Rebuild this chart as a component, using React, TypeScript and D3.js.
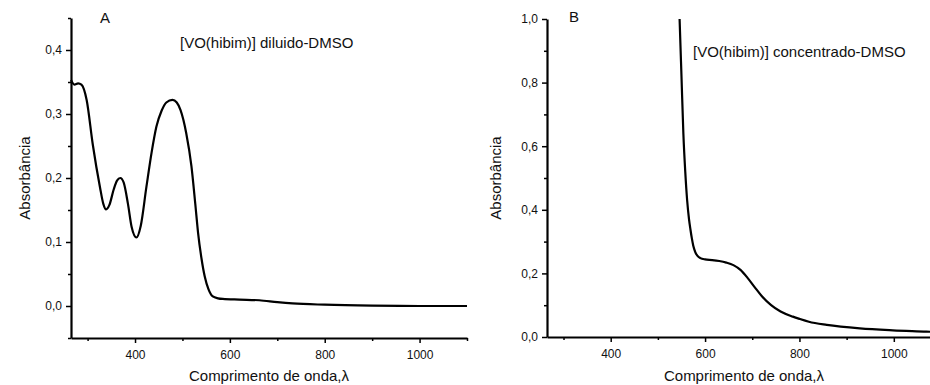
import React, { useEffect, useRef } from 'react';
import * as d3 from 'd3';

// Panel A: [VO(hibim)] diluido-DMSO
const wavelengthA = [
  265, 272, 280, 287, 298, 311, 326, 333, 339, 346, 355, 362, 369, 376, 385, 393,
  403, 412, 424, 435, 445, 456, 466, 479, 488, 496, 508, 519, 527, 533, 540, 547,
  555, 564, 575, 585, 620, 662, 700, 732, 800, 900, 1000, 1100,
];
const absorbanceA = [
  0.353, 0.346, 0.348, 0.346, 0.322, 0.252, 0.186, 0.16, 0.151, 0.158, 0.182, 0.196,
  0.2, 0.193, 0.16, 0.123, 0.107, 0.125, 0.186, 0.24, 0.28, 0.305, 0.318, 0.322,
  0.318, 0.306, 0.27, 0.218, 0.16, 0.114, 0.075, 0.046, 0.026, 0.015, 0.012, 0.011,
  0.01, 0.009, 0.006, 0.004, 0.002, 0.0005, 0.0, 0.0,
];

// Panel B: [VO(hibim)] concentrado-DMSO
const wavelengthB = [
  546, 550, 554, 558, 562, 566, 569, 572, 575, 579, 584, 590, 600, 615, 630, 645,
  660, 675, 690, 705, 720, 740, 760, 786, 800, 820, 858, 928, 998, 1069, 1100,
];
const absorbanceB = [
  1.0, 0.82, 0.64, 0.52, 0.43, 0.37, 0.338, 0.31, 0.287, 0.268, 0.255, 0.248, 0.244,
  0.242, 0.239, 0.234, 0.226, 0.211, 0.186, 0.157, 0.129, 0.1, 0.08, 0.064, 0.057,
  0.048, 0.038, 0.027, 0.021, 0.017, 0.015,
];

const xMajorTicks = [400, 600, 800, 1000];
const xMinorTicks = [300, 500, 700, 900, 1100];
const yMajorTicksA = [0, 0.1, 0.2, 0.3, 0.4];
const yMinorTicksA = [-0.05, 0.05, 0.15, 0.25, 0.35, 0.45];
const yMajorTicksB = [0, 0.2, 0.4, 0.6, 0.8, 1.0];
const yMinorTicksB = [0.1, 0.3, 0.5, 0.7, 0.9];

const FONT = '"Liberation Sans", Arial, Helvetica, sans-serif';

interface PanelSpec {
  left: number;
  right: number;
  top: number;
  bottom: number;
  yDomain: [number, number];
  yMajor: number[];
  yMinor: number[];
  xs: number[];
  ys: number[];
  letter: string;
  letterPos: [number, number];
  note: string;
  notePos: [number, number];
  yLabelX: number;
}

const App: React.FC = () => {
  const svgRef = useRef<SVGSVGElement>(null);

  useEffect(() => {
    if (!svgRef.current) return;
    const svg = d3.select(svgRef.current);
    svg.selectAll('*').remove();

    const commaFmt = (v: d3.NumberValue) => d3.format('.1f')(Number(v)).replace('.', ',');

    const panels: PanelSpec[] = [
      {
        left: 71, right: 467, top: 18, bottom: 338,
        yDomain: [-0.05, 0.45], yMajor: yMajorTicksA, yMinor: yMinorTicksA,
        xs: wavelengthA, ys: absorbanceA,
        letter: 'A', letterPos: [100, 23],
        note: '[VO(hibim)] diluido-DMSO', notePos: [180, 48],
        yLabelX: 30,
      },
      {
        left: 547, right: 941, top: 19, bottom: 337,
        yDomain: [0, 1.0], yMajor: yMajorTicksB, yMinor: yMinorTicksB,
        xs: wavelengthB, ys: absorbanceB,
        letter: 'B', letterPos: [569, 22],
        note: '[VO(hibim)] concentrado-DMSO', notePos: [693, 57],
        yLabelX: 501,
      },
    ];

    panels.forEach((p) => {
      const x = d3.scaleLinear().domain([265, 1100]).range([p.left, p.right]);
      const y = d3.scaleLinear().domain(p.yDomain).range([p.bottom, p.top]);

      // minor ticks
      svg.append('g')
        .attr('transform', `translate(${p.left},0)`)
        .call(d3.axisLeft(y).tickValues(p.yMinor).tickSize(3).tickSizeOuter(0).tickFormat(() => ''))
        .call((g) => g.select('.domain').remove())
        .selectAll('line').attr('stroke', '#000').attr('stroke-width', 1.5);
      svg.append('g')
        .attr('transform', `translate(0,${p.bottom})`)
        .call(d3.axisBottom(x).tickValues(xMinorTicks).tickSize(3).tickSizeOuter(0).tickFormat(() => ''))
        .call((g) => g.select('.domain').remove())
        .selectAll('line').attr('stroke', '#000').attr('stroke-width', 1.5);

      // major y axis
      const yAxis = svg.append('g')
        .attr('transform', `translate(${p.left},0)`)
        .call(d3.axisLeft(y).tickValues(p.yMajor).tickSize(5).tickSizeOuter(0).tickPadding(4).tickFormat(commaFmt));
      yAxis.select('.domain').attr('stroke', '#000').attr('stroke-width', 2.2);
      yAxis.selectAll('line').attr('stroke', '#000').attr('stroke-width', 1.5);
      yAxis.selectAll('text').attr('font-family', FONT).attr('font-size', 12).attr('fill', '#111');

      // major x axis
      const xAxis = svg.append('g')
        .attr('transform', `translate(0,${p.bottom})`)
        .call(d3.axisBottom(x).tickValues(xMajorTicks).tickSize(5).tickSizeOuter(0).tickPadding(7).tickFormat(d3.format('d')));
      xAxis.select('.domain').attr('stroke', '#000').attr('stroke-width', 2.2);
      xAxis.selectAll('line').attr('stroke', '#000').attr('stroke-width', 1.5);
      xAxis.selectAll('text').attr('font-family', FONT).attr('font-size', 12).attr('fill', '#111');

      // spectrum line
      const pts = p.xs.map((w, i) => [w, p.ys[i]] as [number, number]);
      const line = d3.line<[number, number]>()
        .x((d) => x(d[0]))
        .y((d) => y(d[1]))
        .curve(d3.curveMonotoneX);
      svg.append('path')
        .datum(pts)
        .attr('d', line)
        .attr('fill', 'none')
        .attr('stroke', '#000')
        .attr('stroke-width', 2.2);

      // axis titles
      svg.append('text')
        .attr('x', (p.left + p.right) / 2)
        .attr('y', 381)
        .attr('text-anchor', 'middle')
        .attr('font-family', FONT)
        .attr('font-size', 15)
        .attr('fill', '#111')
        .text('Comprimento de onda,λ');
      svg.append('text')
        .attr('transform', `translate(${p.yLabelX},${(p.top + p.bottom) / 2}) rotate(-90)`)
        .attr('text-anchor', 'middle')
        .attr('font-family', FONT)
        .attr('font-size', 15)
        .attr('fill', '#111')
        .text('Absorbância');

      // panel letter and annotation
      svg.append('text')
        .attr('x', p.letterPos[0])
        .attr('y', p.letterPos[1])
        .attr('font-family', FONT)
        .attr('font-size', 15)
        .attr('fill', '#111')
        .text(p.letter);
      svg.append('text')
        .attr('x', p.notePos[0])
        .attr('y', p.notePos[1])
        .attr('font-family', FONT)
        .attr('font-size', 15)
        .attr('fill', '#111')
        .text(p.note);
    });
  }, []);

  return (
    <svg
      ref={svgRef}
      width={930}
      height={385}
      style={{ position: 'absolute', left: 0, top: 0, background: '#fff' }}
    />
  );
};

export default App;
